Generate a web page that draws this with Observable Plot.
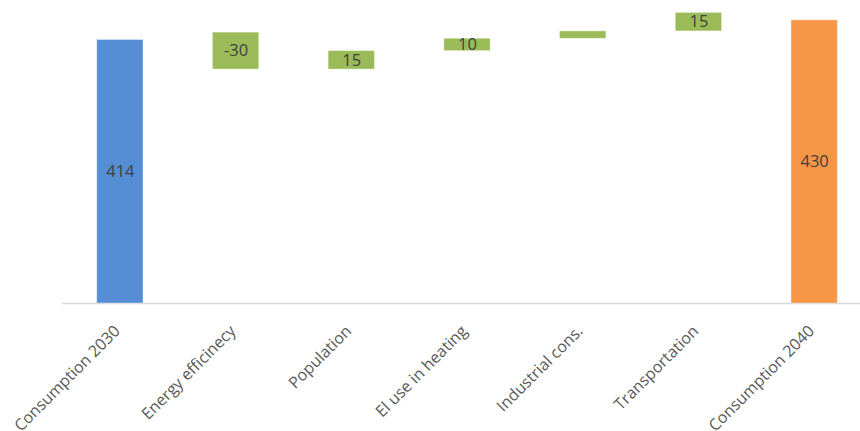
<!DOCTYPE html>
<html>
<head>
<meta charset="utf-8">
<script src="https://cdn.jsdelivr.net/npm/d3@7"></script>
<script src="https://cdn.jsdelivr.net/npm/@observablehq/plot@0.6"></script>
<style>
  html, body { margin: 0; padding: 0; background: #fff; overflow: hidden; }
  #chart svg { display: block; }
</style>
</head>
<body>
<div id="chart"></div>
<script>
const categories = ["Consumption 2030", "Energy efficinecy", "Population", "El use in heating", "Industrial cons.", "Transportation", "Consumption 2040"];
const starts = [200, 420, 390, 405, 415, 421, 200];
const ends = [414, 390, 405, 415, 421, 436, 430];
const labels = ["414", "-30", "15", "10", "", "15", "430"];
const kinds = ["start", "change", "change", "change", "change", "change", "end"];

const data = categories.map((c, i) => ({
  category: c, y1: starts[i], y2: ends[i], label: labels[i], kind: kinds[i],
  mid: (starts[i] + ends[i]) / 2
}));

const chart = Plot.plot({
  width: 860,
  height: 431,
  marginTop: 0,
  marginLeft: 62,
  marginRight: 0,
  marginBottom: 128,
  style: { fontFamily: "'Open Sans', sans-serif", background: "#fff" },
  x: { domain: categories, range: [62, 872], paddingInner: 0.6, paddingOuter: 0.3, round: false, label: null },
  y: { domain: [200, 446.1], axis: null },
  color: { domain: ["start", "change", "end"], range: ["#558ED5", "#9BBB59", "#F79646"] },
  marks: [
    Plot.ruleY([200], { stroke: "#d9d9d9", strokeWidth: 1.5 }),
    Plot.barY(data, { x: "category", y1: "y1", y2: "y2", fill: "kind", stroke: "#ffffff", strokeOpacity: 0.35, strokeWidth: 1 }),
    Plot.text(data, { x: "category", y: "mid", text: "label", fill: "#404040", fontSize: 16.5 }),
    Plot.axisX({ tickSize: 0, tickPadding: 12, tickRotate: -45, fontSize: 16, fill: "#595959", label: null, dx: -3, dy: 13 })
  ]
});
document.getElementById("chart").appendChild(chart);
</script>
</body>
</html>
